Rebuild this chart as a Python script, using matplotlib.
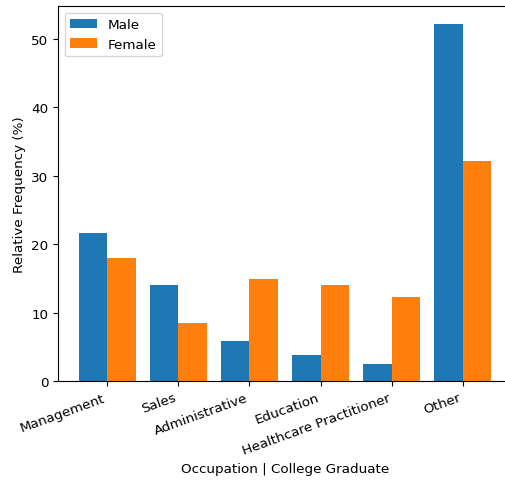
import matplotlib
matplotlib.use("Agg")
import matplotlib.pyplot as plt
import numpy as np

categories = ["Management", "Sales", "Administrative", "Education", "Healthcare Practitioner", "Other"]
male = [21.6, 14.0, 5.8, 3.8, 2.5, 52.2]
female = [18.0, 8.5, 14.9, 14.1, 12.3, 32.1]

plt.rcParams["font.size"] = 9.7

fig = plt.figure(figsize=(5.05, 4.81), dpi=100)
ax = fig.add_axes([58/505, 99/481, (512-58)/505, (474-99)/481])
x = np.arange(len(categories))
w = 0.4
ax.bar(x - w/2, male, w, label="Male", color="#1f77b4")
ax.bar(x + w/2, female, w, label="Female", color="#ff7f0e")
ax.set_xticks(x)
ax.set_xticklabels(categories, rotation=20, ha="right")
ax.set_ylabel("Relative Frequency (%)")
ax.set_xlabel("Occupation | College Graduate")
ax.legend(loc="upper left")
fig.savefig("out.png", dpi=100)
